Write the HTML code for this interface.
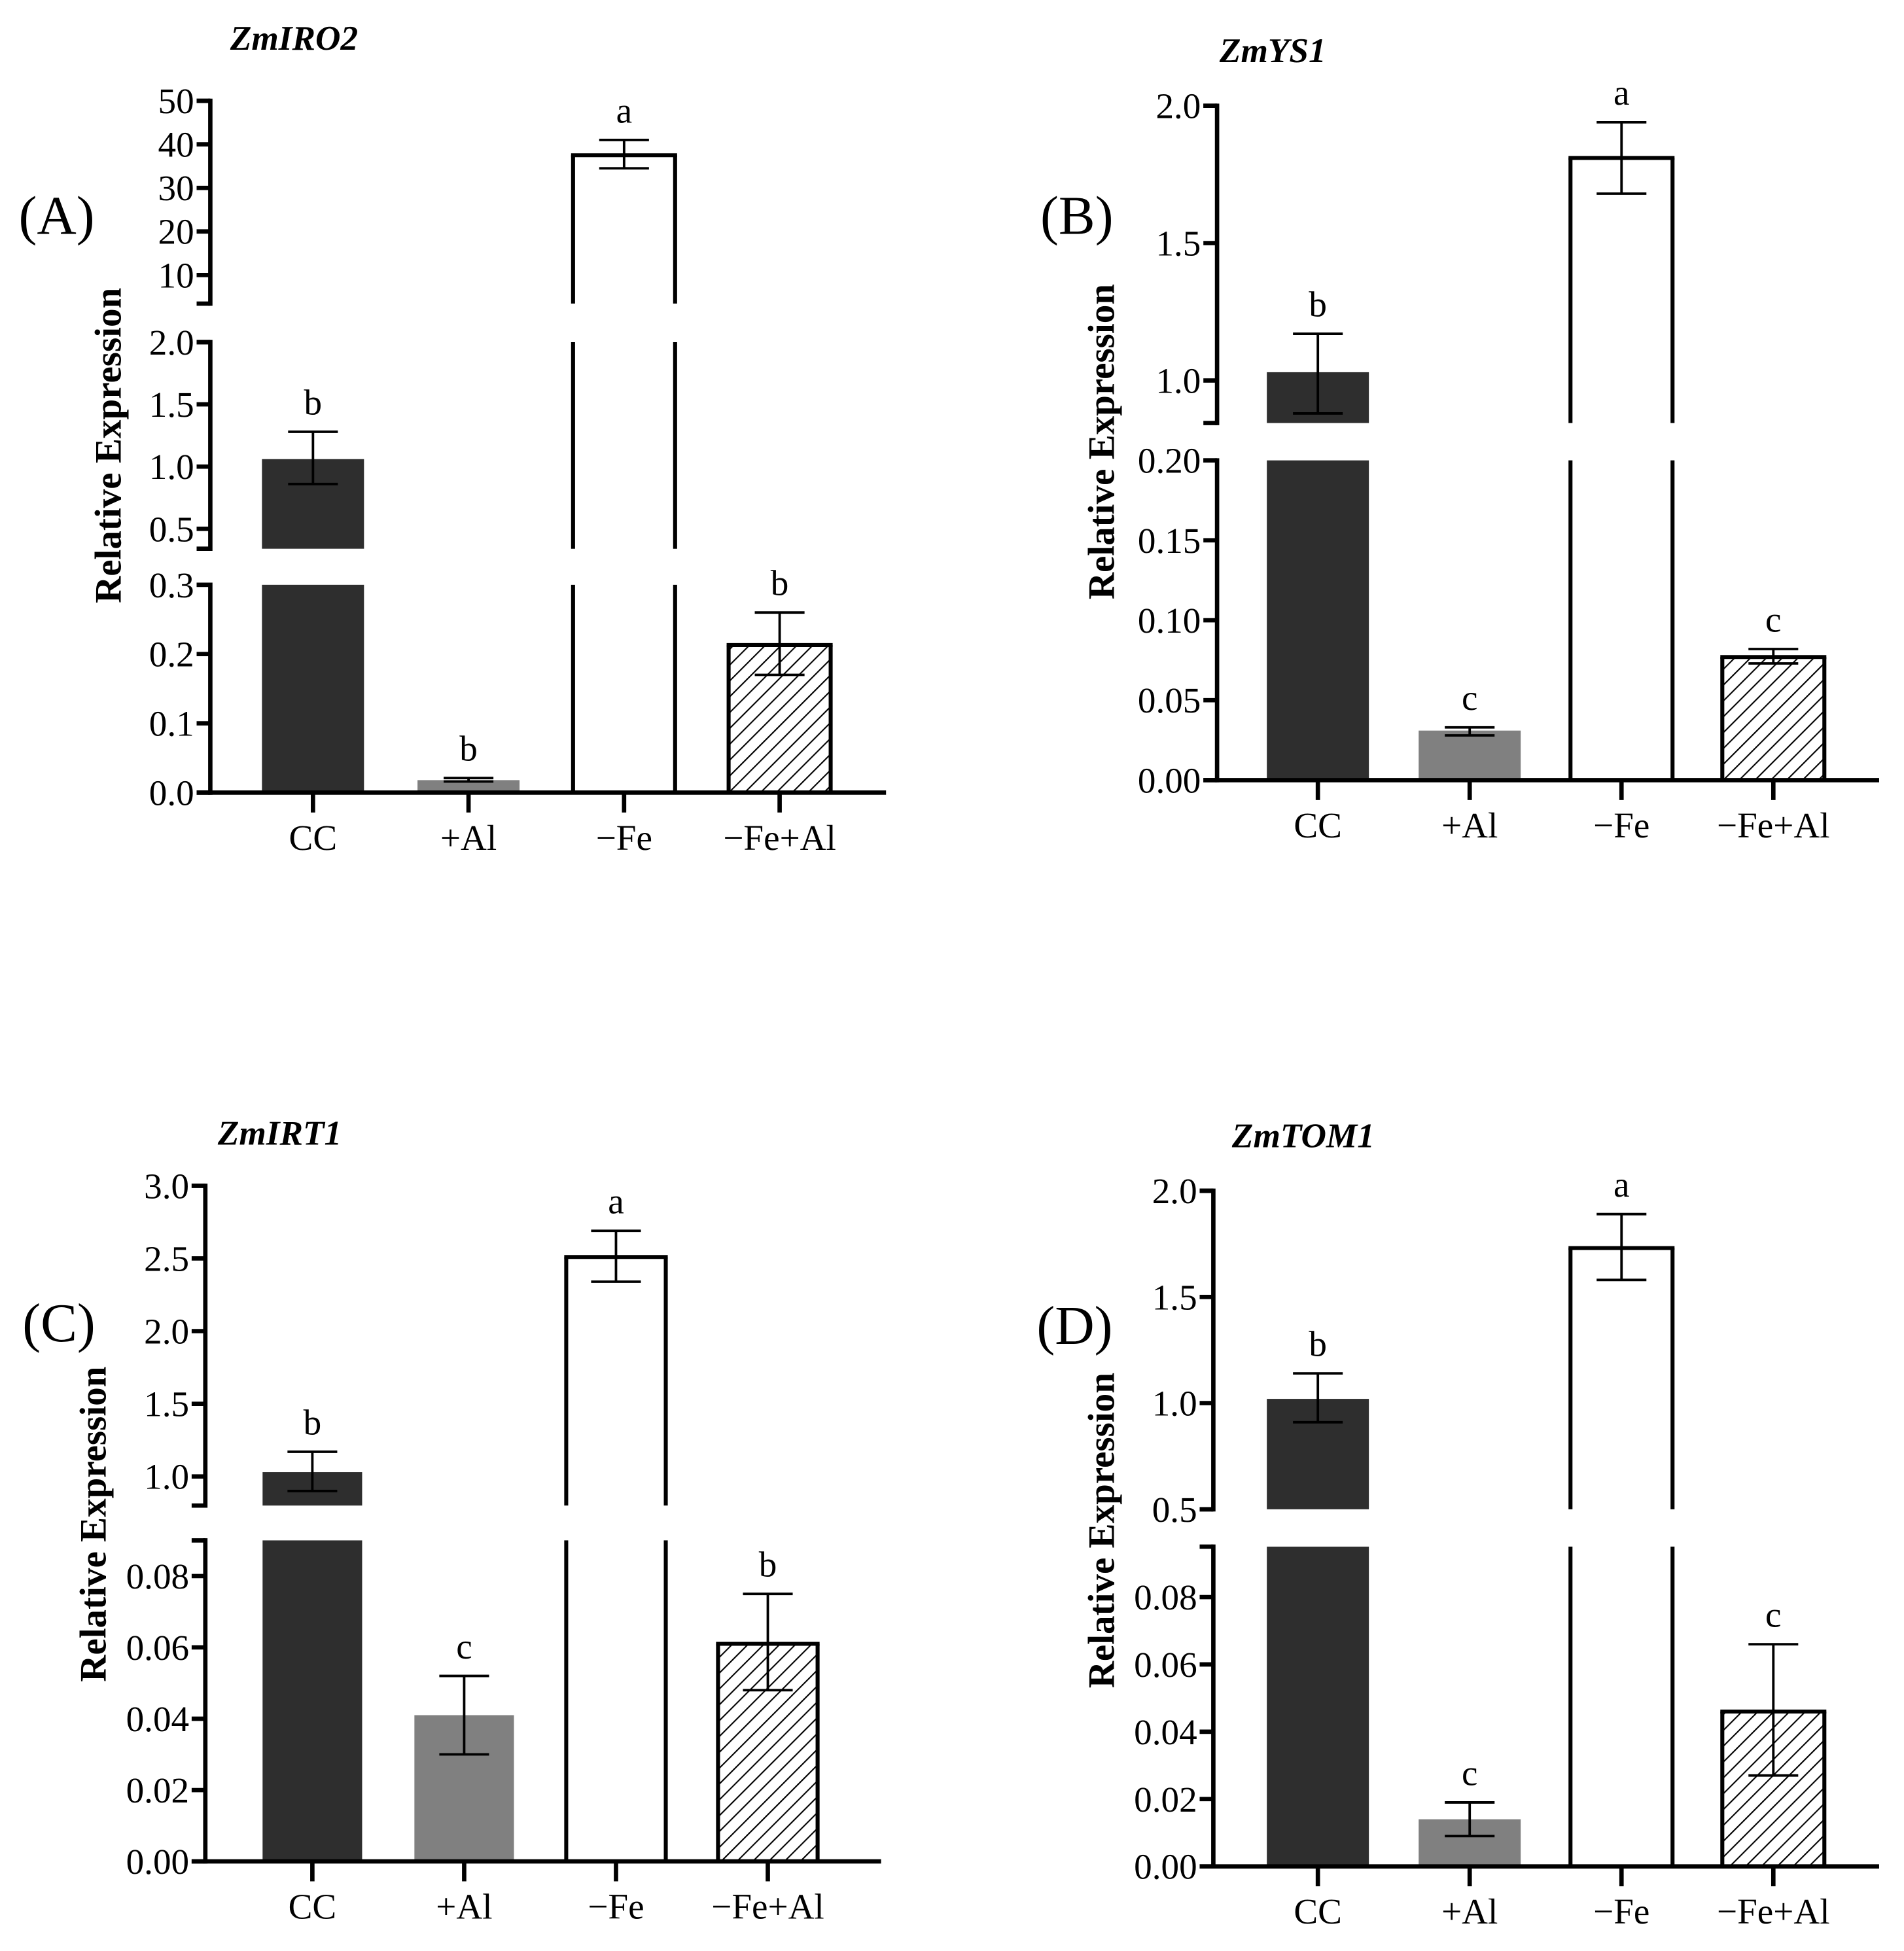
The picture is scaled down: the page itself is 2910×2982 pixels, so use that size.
<!DOCTYPE html>
<html><head><meta charset="utf-8">
<style>
html,body{margin:0;padding:0;background:#fff;}
svg{display:block;}
text{font-family:"Liberation Serif",serif;fill:#000;}
</style></head>
<body>
<svg id="fig" xmlns="http://www.w3.org/2000/svg" width="2910" height="2982" viewBox="0 0 1530 1568" preserveAspectRatio="none">
<defs>
<pattern id="hatch" patternUnits="userSpaceOnUse" width="9" height="9" patternTransform="rotate(45)">
<rect width="9" height="9" fill="#fff"/>
<line x1="0" y1="0" x2="0" y2="9" stroke="#000" stroke-width="2.2"/>
</pattern>
</defs>
</svg>
<script>
const categories = ["CC","+Al","\u2212Fe","\u2212Fe+Al"];
const valuesA = [1.06, 0.018, 37.5, 0.213];
const errLowA = [0.86, 0.016, 34.5, 0.17];
const errHighA = [1.28, 0.021, 41.0, 0.26];
const lettersA = ["b","b","a","b"];
const valuesB = [1.03, 0.031, 1.81, 0.077];
const errLowB = [0.88, 0.028, 1.68, 0.073];
const errHighB = [1.17, 0.033, 1.94, 0.082];
const lettersB = ["b","c","a","c"];
const valuesC = [1.03, 0.041, 2.51, 0.061];
const errLowC = [0.90, 0.030, 2.34, 0.048];
const errHighC = [1.17, 0.052, 2.69, 0.075];
const lettersC = ["b","c","a","b"];
const valuesD = [1.02, 0.014, 1.73, 0.046];
const errLowD = [0.91, 0.009, 1.58, 0.027];
const errHighD = [1.14, 0.019, 1.89, 0.066];
const lettersD = ["b","c","a","c"];
const ticksA = [[10,20,30,40,50],[0.5,1.0,1.5,2.0],[0,0.1,0.2,0.3]];
const tickLabelsA = [["10","20","30","40","50"],["0.5","1.0","1.5","2.0"],["0.0","0.1","0.2","0.3"]];
const ticksB = [[1.0,1.5,2.0],[0,0.05,0.10,0.15,0.20]];
const tickLabelsB = [["1.0","1.5","2.0"],["0.00","0.05","0.10","0.15","0.20"]];
const ticksC = [[1.0,1.5,2.0,2.5,3.0],[0,0.02,0.04,0.06,0.08]];
const tickLabelsC = [["1.0","1.5","2.0","2.5","3.0"],["0.00","0.02","0.04","0.06","0.08"]];
const ticksD = [[0.5,1.0,1.5,2.0],[0,0.02,0.04,0.06,0.08]];
const tickLabelsD = [["0.5","1.0","1.5","2.0"],["0.00","0.02","0.04","0.06","0.08"]];

const NS="http://www.w3.org/2000/svg";
const svg=document.getElementById('fig');
function mk(tag,attrs,parent){const e=document.createElementNS(NS,tag);for(const k in attrs)e.setAttribute(k,attrs[k]);(parent||svg).appendChild(e);return e;}
const fills=["#2e2e2e","#808080","#fff","url(#hatch)"];

function panel(cfg){
  const g=mk('g',{});
  
  
  const segs=cfg.segs;
  const y0=segs[0].y0;
  function yOf(v,s){return s.y0-(v-s.lo)/(s.hi-s.lo)*(s.y0-s.y1);}
  function segFor(v){for(const s of segs){if(v>=s.lo&&v<=s.hi)return s;}return segs[segs.length-1];}
  cfg.values.forEach((v,i)=>{
    const cx=cfg.x0+cfg.step*(i+0.5)+cfg.offset;
    const bx=cx-cfg.bw/2;
    segs.forEach(s=>{
      if(v<=s.lo) return;
      const top=Math.min(v,s.hi);
      const yt=yOf(top,s), yb=s.y0;
      const outlined=(i>=2);
      if(outlined){
        const r=mk('rect',{x:bx,y:yt,width:cfg.bw,height:yb-yt,fill:fills[i],stroke:'none'},g);
        
        
        mk('line',{x1:bx,y1:yt,x2:bx,y2:yb,stroke:'#000','stroke-width':3.2},g);
        mk('line',{x1:bx+cfg.bw,y1:yt,x2:bx+cfg.bw,y2:yb,stroke:'#000','stroke-width':3.2},g);
        if(v<=s.hi) mk('line',{x1:bx-1.6,y1:yt,x2:bx+cfg.bw+1.6,y2:yt,stroke:'#000','stroke-width':3.2},g);
      } else {
        const r=mk('rect',{x:bx,y:yt,width:cfg.bw,height:yb-yt,fill:fills[i]},g);
        
        
      }
    });
    const s=segFor(v);
    const yl=yOf(cfg.lo[i],s), yh=yOf(cfg.hi[i],s);
    const eb=mk('g',{stroke:'#000','stroke-width':2},g);
    
    
    mk('line',{x1:cx,y1:yl,x2:cx,y2:yh},eb);
    mk('line',{x1:cx-20,y1:yh,x2:cx+20,y2:yh},eb);
    mk('line',{x1:cx-20,y1:yl,x2:cx+20,y2:yl},eb);
    const lt=mk('text',{x:cx,y:yh-14,'text-anchor':'middle','font-size':29},g);
    lt.textContent=cfg.letters[i];
    
    
    mk('line',{x1:cx,y1:y0,x2:cx,y2:y0+16,stroke:'#000','stroke-width':3.5},g);
    const xl=mk('text',{x:cx,y:y0+46,'text-anchor':'middle','font-size':29},g);
    xl.textContent=categories[i];
    
    
  });
  segs.forEach((s,k)=>{
    const ax=mk('g',{stroke:'#000','stroke-width':3.5},g);
    
    
    mk('line',{x1:cfg.x0,y1:s.y0+1.75,x2:cfg.x0,y2:s.y1-1.75},ax);
    mk('line',{x1:cfg.x0-11,y1:s.y1,x2:cfg.x0,y2:s.y1},ax);
    if(k>0) mk('line',{x1:cfg.x0-11,y1:s.y0,x2:cfg.x0,y2:s.y0},ax);
    cfg.ticks[k].forEach((t,j)=>{
      const y=yOf(t,s);
      mk('line',{x1:cfg.x0-11,y1:y,x2:cfg.x0,y2:y},ax);
      const tl=mk('text',{x:cfg.x0-13,y:y+10,'text-anchor':'end','font-size':29,stroke:'none'},g);
      tl.textContent=cfg.tickLabels[k][j];
      
      
    });
  });
  const xa=mk('line',{x1:cfg.x0-11,y1:y0,x2:cfg.xEnd,y2:y0,stroke:'#000','stroke-width':3.5},g);
  
  
  const ti=mk('text',{x:cfg.title[1],y:cfg.title[2],'font-size':28,'font-weight':'bold','font-style':'italic'},g);
  ti.textContent=cfg.title[0];
  
  
  const pl=mk('text',{x:cfg.plabel[1],y:cfg.plabel[2],'font-size':44},g);
  pl.textContent=cfg.plabel[0];
  
  
  const yl=mk('text',{x:0,y:0,'font-size':30,'font-weight':'bold','text-anchor':'middle',transform:`translate(${cfg.ylab[0]},${cfg.ylab[1]}) rotate(-90)`},g);
  yl.textContent="Relative Expression";
  
  
}

panel({id:'a',x0:169,xEnd:712,step:125,offset:20,bw:82,
  segs:[{lo:0,hi:0.3,y0:637,y1:470},{lo:0.34,hi:2.0,y0:441,y1:275},{lo:3.43,hi:50,y0:244,y1:81}],
  values:valuesA,lo:errLowA,hi:errHighA,letters:lettersA,
  ticks:ticksA.slice().reverse(),tickLabels:tickLabelsA.slice().reverse(),
  title:["ZmIRO2",185,40],plabel:["(A)",15,188],ylab:[97,358]});
panel({id:'b',x0:978,xEnd:1510,step:122,offset:20,bw:82,
  segs:[{lo:0,hi:0.20,y0:627,y1:370},{lo:0.845,hi:2.0,y0:340,y1:85}],
  values:valuesB,lo:errLowB,hi:errHighB,letters:lettersB,
  ticks:[ticksB[1],ticksB[0]],tickLabels:[tickLabelsB[1],tickLabelsB[0]],
  title:["ZmYS1",980,50],plabel:["(B)",836,188],ylab:[895,355]});
panel({id:'c',x0:165,xEnd:708,step:122,offset:25,bw:80,
  segs:[{lo:0,hi:0.09,y0:1496,y1:1238},{lo:0.8,hi:3.0,y0:1210,y1:953}],
  values:valuesC,lo:errLowC,hi:errHighC,letters:lettersC,
  ticks:[ticksC[1],ticksC[0]],tickLabels:[tickLabelsC[1],tickLabelsC[0]],
  title:["ZmIRT1",175,920],plabel:["(C)",18,1078],ylab:[85,1225]});
panel({id:'d',x0:975,xEnd:1510,step:122,offset:23,bw:82,
  segs:[{lo:0,hi:0.095,y0:1500,y1:1243},{lo:0.5,hi:2.0,y0:1213,y1:957}],
  values:valuesD,lo:errLowD,hi:errHighD,letters:lettersD,
  ticks:[ticksD[1],ticksD[0]],tickLabels:[tickLabelsD[1],tickLabelsD[0]],
  title:["ZmTOM1",990,922],plabel:["(D)",833,1080],ylab:[895,1230]});
</script>
</body></html>
